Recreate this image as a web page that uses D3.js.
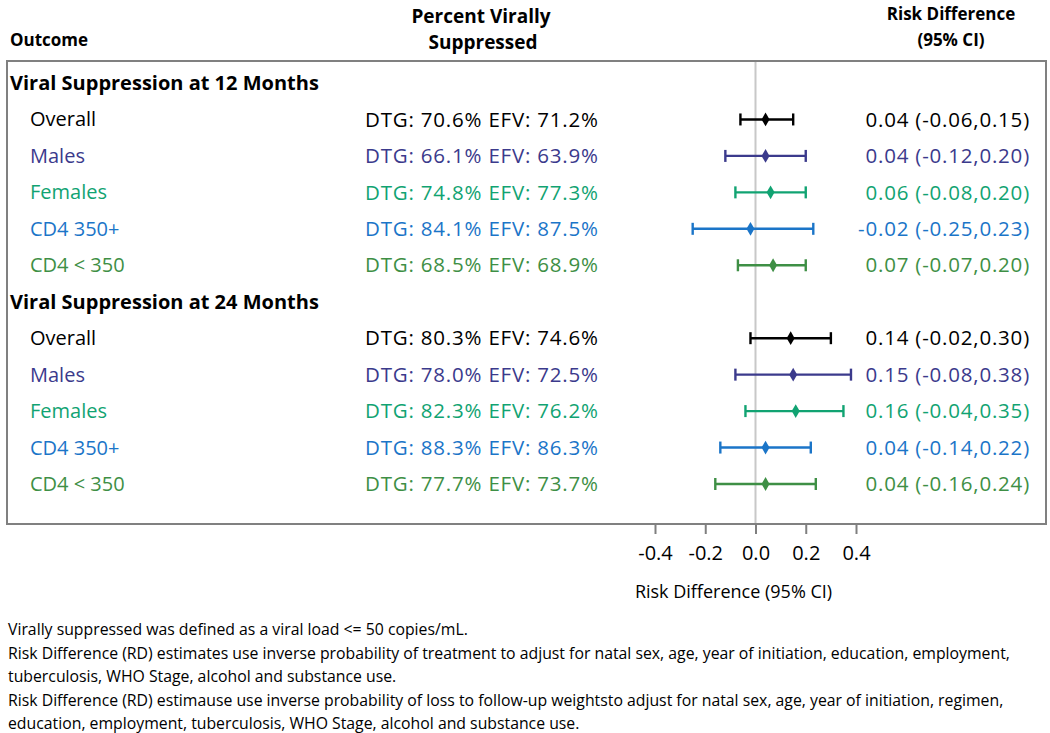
<!DOCTYPE html>
<html lang="en">
<head>
<meta charset="utf-8">
<title>Forest plot - viral suppression</title>
<script src="https://cdn.jsdelivr.net/npm/d3@7"></script>
<style>
  body { margin: 0; background: #fff; }
  svg text { font-family: "Open Sans", "Noto Sans", sans-serif; }
  .hdr { font-weight: bold; font-size: 17px; }
  .hdr.big { font-size: 19px; }
  .grp { font-weight: bold; font-size: 20px; }
  .row { font-size: 20px; }
  .num { font-size: 20.5px; letter-spacing: 0.8px; }
  .foot { font-size: 15.8px; }
  .tick text { font-size: 20px; fill: #000; }
  .tick line { stroke: #7f7f7f; stroke-width: 2; }
</style>
</head>
<body>
<script>
// data
var outcomes = ["Viral Suppression at 12 Months", "Overall", "Males", "Females", "CD4 350+", "CD4 < 350",
                "Viral Suppression at 24 Months", "Overall", "Males", "Females", "CD4 350+", "CD4 < 350"];
var isGroup = [1,0,0,0,0,0,1,0,0,0,0,0];
var dtg = [null, 70.6, 66.1, 74.8, 84.1, 68.5, null, 80.3, 78.0, 82.3, 88.3, 77.7];
var efv = [null, 71.2, 63.9, 77.3, 87.5, 68.9, null, 74.6, 72.5, 76.2, 86.3, 73.7];
var rd  = [null, 0.04, 0.04, 0.06, -0.02, 0.07, null, 0.14, 0.15, 0.16, 0.04, 0.04];
var lo  = [null, -0.06, -0.12, -0.08, -0.25, -0.07, null, -0.02, -0.08, -0.04, -0.14, -0.16];
var hi  = [null, 0.15, 0.20, 0.20, 0.23, 0.20, null, 0.30, 0.38, 0.35, 0.22, 0.24];
var subgroupColors = {"Overall": "#000000", "Males": "#3b3a8c", "Females": "#11a372",
                      "CD4 350+": "#1b75c8", "CD4 < 350": "#3e8f45"};
var xTicks = [-0.4, -0.2, 0.0, 0.2, 0.4];
var footnotes = [
  "Virally suppressed was defined as a viral load <= 50 copies/mL.",
  "Risk Difference (RD) estimates use inverse probability of treatment to adjust for natal sex, age, year of initiation, education, employment,",
  "tuberculosis, WHO Stage, alcohol and substance use.",
  "Risk Difference (RD) estimause use inverse probability of loss to follow-up weightsto adjust for natal sex, age, year of initiation, regimen,",
  "education, employment, tuberculosis, WHO Stage, alcohol and substance use."
];

var W = 1050, H = 733;
var box = {left: 7, top: 61, right: 1046, bottom: 524};

var svg = d3.select("body").append("svg")
    .attr("width", W).attr("height", H);

var x = d3.scaleLinear().domain([-0.4, 0.4]).range([655, 856]);
var y = d3.scaleLinear().domain([0, outcomes.length - 1]).range([83, 484]);

var rows = outcomes.map(function(d, i) {
  return {label: d, group: isGroup[i], dtg: dtg[i], efv: efv[i], rd: rd[i], lo: lo[i], hi: hi[i], i: i,
          color: isGroup[i] ? "#000" : subgroupColors[d]};
});

// column headers
svg.append("text").attr("class", "hdr").attr("x", 10).attr("y", 46).text("Outcome");
svg.append("text").attr("class", "hdr big").attr("x", 481).attr("y", 23).attr("text-anchor", "middle").text("Percent Virally");
svg.append("text").attr("class", "hdr big").attr("x", 483).attr("y", 49).attr("text-anchor", "middle").text("Suppressed");
svg.append("text").attr("class", "hdr").attr("x", 951).attr("y", 20).attr("text-anchor", "middle").text("Risk Difference");
svg.append("text").attr("class", "hdr").attr("x", 951).attr("y", 46).attr("text-anchor", "middle").text("(95% CI)");

// reference line at zero
svg.append("line")
    .attr("x1", x(0)).attr("x2", x(0))
    .attr("y1", box.top).attr("y2", box.bottom)
    .attr("stroke", "#c8c8c8").attr("stroke-width", 2);

// frame
svg.append("rect")
    .attr("x", box.left).attr("y", box.top)
    .attr("width", box.right - box.left).attr("height", box.bottom - box.top)
    .attr("fill", "none").attr("stroke", "#808080").attr("stroke-width", 2);

// row labels
svg.selectAll("text.lab").data(rows).enter().append("text")
    .attr("class", function(d) { return d.group ? "lab grp" : "lab row"; })
    .attr("x", function(d) { return d.group ? 10 : 30; })
    .attr("y", function(d) { return y(d.i); })
    .attr("dy", "0.35em")
    .attr("fill", function(d) { return d.color; })
    .text(function(d) { return d.label; });

var sub = rows.filter(function(d) { return !d.group; });

// percent column
svg.selectAll("text.pct").data(sub).enter().append("text")
    .attr("class", "pct num")
    .attr("x", 365)
    .attr("y", function(d) { return y(d.i); })
    .attr("dy", "0.35em")
    .attr("fill", function(d) { return d.color; })
    .text(function(d) { return "DTG: " + d.dtg.toFixed(1) + "% EFV: " + d.efv.toFixed(1) + "%"; });

// RD column
svg.selectAll("text.rd").data(sub).enter().append("text")
    .attr("class", "rd num")
    .attr("x", 1030)
    .attr("y", function(d) { return y(d.i); })
    .attr("dy", "0.35em")
    .attr("text-anchor", "end")
    .attr("fill", function(d) { return d.color; })
    .text(function(d) { return d.rd.toFixed(2) + " (" + d.lo.toFixed(2) + "," + d.hi.toFixed(2) + ")"; });

// CI whiskers
var ci = svg.selectAll("g.ci").data(sub).enter().append("g")
    .attr("class", "ci")
    .attr("stroke", function(d) { return d.color; })
    .attr("stroke-width", 2.4);
ci.append("line")
    .attr("x1", function(d) { return x(d.lo); }).attr("x2", function(d) { return x(d.hi); })
    .attr("y1", function(d) { return y(d.i); }).attr("y2", function(d) { return y(d.i); });
ci.append("line")
    .attr("x1", function(d) { return x(d.lo); }).attr("x2", function(d) { return x(d.lo); })
    .attr("y1", function(d) { return y(d.i) - 6; }).attr("y2", function(d) { return y(d.i) + 6; });
ci.append("line")
    .attr("x1", function(d) { return x(d.hi); }).attr("x2", function(d) { return x(d.hi); })
    .attr("y1", function(d) { return y(d.i) - 6; }).attr("y2", function(d) { return y(d.i) + 6; });

// point estimate
svg.selectAll("path.pt").data(sub).enter().append("path")
    .attr("class", "pt")
    .attr("d", d3.symbol().type(d3.symbolDiamond).size(55))
    .attr("transform", function(d) { return "translate(" + x(d.rd) + "," + y(d.i) + ")"; })
    .attr("fill", function(d) { return d.color; });

// x axis
var ax = svg.append("g")
    .attr("transform", "translate(0," + (box.bottom + 1) + ")")
    .call(d3.axisBottom(x).tickValues(xTicks).tickSize(9).tickPadding(12));
ax.select(".domain").remove();
ax.selectAll(".tick text").text(function(d) { return d3.format(".1f")(d).replace("\u2212", "-"); });

svg.append("text").attr("class", "row").attr("x", x(0) - 22).attr("y", 598)
    .attr("text-anchor", "middle").style("font-size", "18px").text("Risk Difference (95% CI)");

// footnotes
svg.selectAll("text.foot").data(footnotes).enter().append("text")
    .attr("class", "foot")
    .attr("x", 8)
    .attr("y", function(d, i) { return [635, 659, 682, 706, 729][i]; })
    .text(function(d) { return d; });
</script>
</body>
</html>
